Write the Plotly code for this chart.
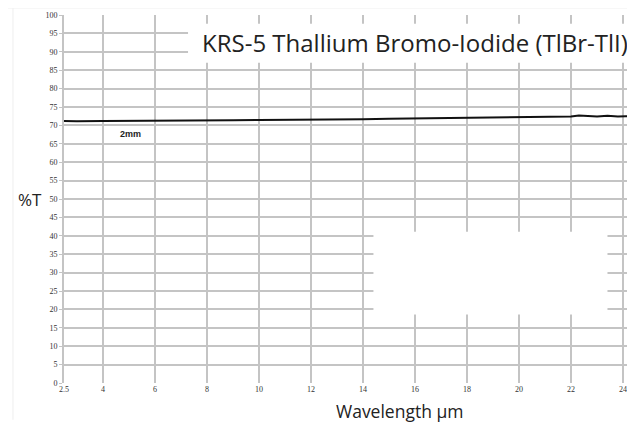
import plotly.graph_objects as go

wavelength = [2.5, 3.0, 4.0, 5.0, 6.0, 7.0, 8.0, 9.0, 10.0, 11.0, 12.0, 13.0, 14.0, 15.0, 16.0,
              17.0, 18.0, 19.0, 20.0, 20.5, 21.0, 21.5, 22.0, 22.3, 22.6, 23.0, 23.4, 23.8, 24.1, 24.42]
transmission = [71.2, 71.1, 71.2, 71.2, 71.3, 71.3, 71.4, 71.4, 71.5, 71.5, 71.6, 71.6, 71.7, 71.8, 71.9,
                72.0, 72.1, 72.2, 72.3, 72.2, 72.3, 72.5, 72.4, 72.7, 72.5, 72.4, 72.6, 72.4, 72.5, 72.4]

x_ticks = [2.5, 4, 6, 8, 10, 12, 14, 16, 18, 20, 22, 24]
x_tick_labels = ["2.5", "4", "6", "8", "10", "12", "14", "16", "18", "20", "22", "24"]
y_ticks = list(range(0, 101, 5))

title_text = "KRS-5 Thallium Bromo-Iodide (TlBr-TlI)"
thickness_label = "2mm"
x_title = "Wavelength µm"
y_title = "%T"

fig = go.Figure()
fig.add_trace(go.Scatter(x=wavelength, y=transmission, mode="lines",
                         line=dict(color="#111111", width=2), showlegend=False, hoverinfo="skip"))

grid = "#c4c4c4"
tickfont = dict(family="Liberation Serif", size=8, color="#333")
# page body has an 8px margin, so the figure is sized and placed to compensate
fig.update_layout(
    width=627, height=415,
    margin=dict(l=56, r=1, t=7, b=40),
    paper_bgcolor="white", plot_bgcolor="white",
    xaxis=dict(range=[2.5, 24.42], tickvals=x_ticks, ticktext=x_tick_labels,
               showgrid=True, gridcolor=grid, gridwidth=1.6, zeroline=False,
               showline=False, ticks="", tickfont=tickfont),
    yaxis=dict(range=[0, 100], tickvals=y_ticks, showgrid=True, gridcolor=grid, gridwidth=1.6,
               zeroline=False, showline=True, linecolor=grid, linewidth=1.6, ticks="outside", ticklen=3,
               tickcolor=grid, tickfont=tickfont),
)

# white blanked regions of the original picture
fig.add_shape(type="rect", xref="x", yref="y", x0=7.27, x1=24.6, y0=87.0, y1=97.6,
              fillcolor="white", line=dict(width=0), layer="above")
fig.add_shape(type="rect", xref="x", yref="y", x0=14.4, x1=23.4, y0=18.6, y1=41.1,
              fillcolor="white", line=dict(width=0), layer="above")

# faint picture border
fig.add_shape(type="line", xref="paper", yref="paper", x0=-0.0895, x1=-0.0895, y0=-0.1, y1=1.019,
              line=dict(color="#eeeeee", width=1))
fig.add_shape(type="line", xref="paper", yref="paper", x0=-0.1, x1=1.02, y0=1.019, y1=1.019,
              line=dict(color="#f0f0f0", width=1))

fig.add_annotation(text=title_text, xref="paper", yref="paper", x=0.993, y=0.924,
                   xanchor="right", yanchor="middle", showarrow=False,
                   font=dict(family="Open Sans", size=24, color="#222"))
fig.add_annotation(text="<b>" + thickness_label + "</b>", xref="x", yref="y", x=5.05, y=67.8,
                   showarrow=False, font=dict(family="Liberation Sans", size=9, color="#222"))
fig.add_annotation(text=y_title, xref="paper", yref="paper", x=-0.0596, y=0.5,
                   xanchor="center", yanchor="middle", showarrow=False,
                   font=dict(family="Open Sans", size=17, color="#222"))
fig.add_annotation(text=x_title, xref="paper", yref="paper", x=0.589, y=-0.0761,
                   xanchor="center", yanchor="middle", showarrow=False,
                   font=dict(family="Open Sans", size=17.5, color="#222"))

fig.write_html("out.html")
